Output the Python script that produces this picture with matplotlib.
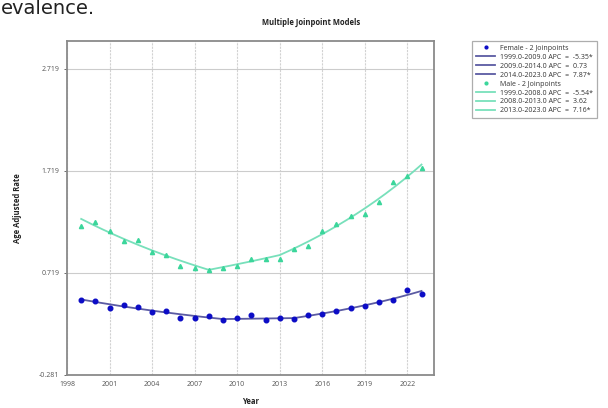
import numpy as np
import matplotlib
matplotlib.use("Agg")
import matplotlib.pyplot as plt
from matplotlib.lines import Line2D

plt.rcParams['font.family'] = ['Open Sans', 'DejaVu Sans']

years = list(range(1999, 2024))

female_rate = [0.454, 0.444, 0.373, 0.399, 0.383, 0.334, 0.346, 0.275, 0.275, 0.294,
               0.252, 0.272, 0.307, 0.252, 0.272, 0.265, 0.304, 0.317, 0.337, 0.373,
               0.386, 0.432, 0.454, 0.546, 0.507]
male_rate = [1.180, 1.219, 1.125, 1.030, 1.040, 0.922, 0.889, 0.788, 0.768, 0.745,
             0.768, 0.788, 0.856, 0.850, 0.850, 0.948, 0.980, 1.131, 1.200, 1.278,
             1.297, 1.409, 1.608, 1.667, 1.748]

# Joinpoint segments: (start year, end year, APC, significant)
female_segments = [(1999.0, 2009.0, -5.35, True), (2009.0, 2014.0, 0.73, False),
                   (2014.0, 2023.0, 7.87, True)]
male_segments = [(1999.0, 2008.0, -5.54, True), (2008.0, 2013.0, 3.62, False),
                 (2013.0, 2023.0, 7.16, True)]
female_fit_start = 0.455
male_fit_start = 1.245

y_ticks = [-0.281, 0.719, 1.719, 2.719]
x_ticks = [1998, 2001, 2004, 2007, 2010, 2013, 2016, 2019, 2022]

F_MARK = "#0c0cc6"
F_LINE = "#5b5ba3"
M_MARK = "#3bd69b"
M_LINE = "#78e0bb"


def joinpoint_curve(start_value, segments, n=60):
    xs, ys = [], []
    v = start_value
    for s, e, apc, _ in segments:
        t = np.linspace(s, e, n)
        xs.append(t)
        ys.append(v * (1 + apc / 100.0) ** (t - s))
        v = v * (1 + apc / 100.0) ** (e - s)
    return np.concatenate(xs), np.concatenate(ys)


fig = plt.figure(figsize=(6.08, 4.08), dpi=100)
W, H = 608, 408
ax = fig.add_axes([67 / W, 1 - 374.5 / H, (434 - 67) / W, (374.5 - 41) / H])

fx, fy = joinpoint_curve(female_fit_start, female_segments)
mx, my = joinpoint_curve(male_fit_start, male_segments)

ax.plot(mx, my, color=M_LINE, lw=1.3, zorder=3)
ax.plot(years, male_rate, linestyle='none', marker='^', ms=3.0, color=M_MARK, zorder=4)
ax.plot(fx, fy, color=F_LINE, lw=1.3, zorder=3)
ax.plot(years, female_rate, linestyle='none', marker='o', ms=3.3, color=F_MARK, zorder=4)

ax.set_xlim(1998, 2023.88)
ax.set_ylim(-0.281, 2.99)
ax.set_xticks(x_ticks)
ax.set_yticks(y_ticks)
ax.set_yticklabels([f"{v:.3f}" for v in y_ticks])
ax.tick_params(axis='both', labelsize=5, colors='#555555', length=2, width=0.6)
ax.tick_params(axis='x', length=0, pad=5)

ax.xaxis.grid(True, color='#d2d2d2', lw=0.8, linestyle=(0, (2, 1)))
ax.yaxis.grid(True, color='#cccccc', lw=0.8)
ax.set_axisbelow(True)
for sp in ax.spines.values():
    sp.set_color('#8a8a8a')
    sp.set_linewidth(1.3)

ax.set_xlabel("Year", fontsize=5.5, fontweight='bold', color='#222222', labelpad=6)
ax.set_ylabel("Age Adjusted Rate", fontsize=5.5, fontweight='bold', color='#222222',
              va='center')
ax.yaxis.set_label_coords((18 - 67) / (434 - 67), 0.5)

fig.text(311 / W, 1 - 22 / H, "Multiple Joinpoint Models", fontsize=5.5, fontweight='bold',
         color='#222222', ha='center', va='center')
fig.text(0.001, 1 - 14.5 / H, "evalence.", fontsize=14, family='DejaVu Sans',
         color='#222222', ha='left', va='baseline')


def seg_label(s, e, apc, sig):
    return f"{s:.1f}-{e:.1f} APC  =  {apc:.2f}" + ("*" if sig else "")


handles = [Line2D([], [], linestyle='none', marker='o', ms=2, color=F_MARK)]
labels = ["Female - 2 Joinpoints"]
for seg in female_segments:
    handles.append(Line2D([], [], color=F_LINE, lw=1.3))
    labels.append(seg_label(*seg))
handles.append(Line2D([], [], linestyle='none', marker='o', ms=2, color=M_MARK))
labels.append("Male - 2 Joinpoints")
for seg in male_segments:
    handles.append(Line2D([], [], color=M_LINE, lw=1.3))
    labels.append(seg_label(*seg))

leg = fig.legend(handles, labels, loc='upper left', bbox_to_anchor=(472 / W, 1 - 41 / H),
                 fontsize=5.0, frameon=True, fancybox=False, labelspacing=0.28,
                 handlelength=2.8, handletextpad=0.7, borderpad=0.55, borderaxespad=0)
leg.get_frame().set_edgecolor('#999999')
leg.get_frame().set_linewidth(0.9)
for t in leg.get_texts():
    t.set_color('#333333')

fig.savefig("out.png", dpi=100)
